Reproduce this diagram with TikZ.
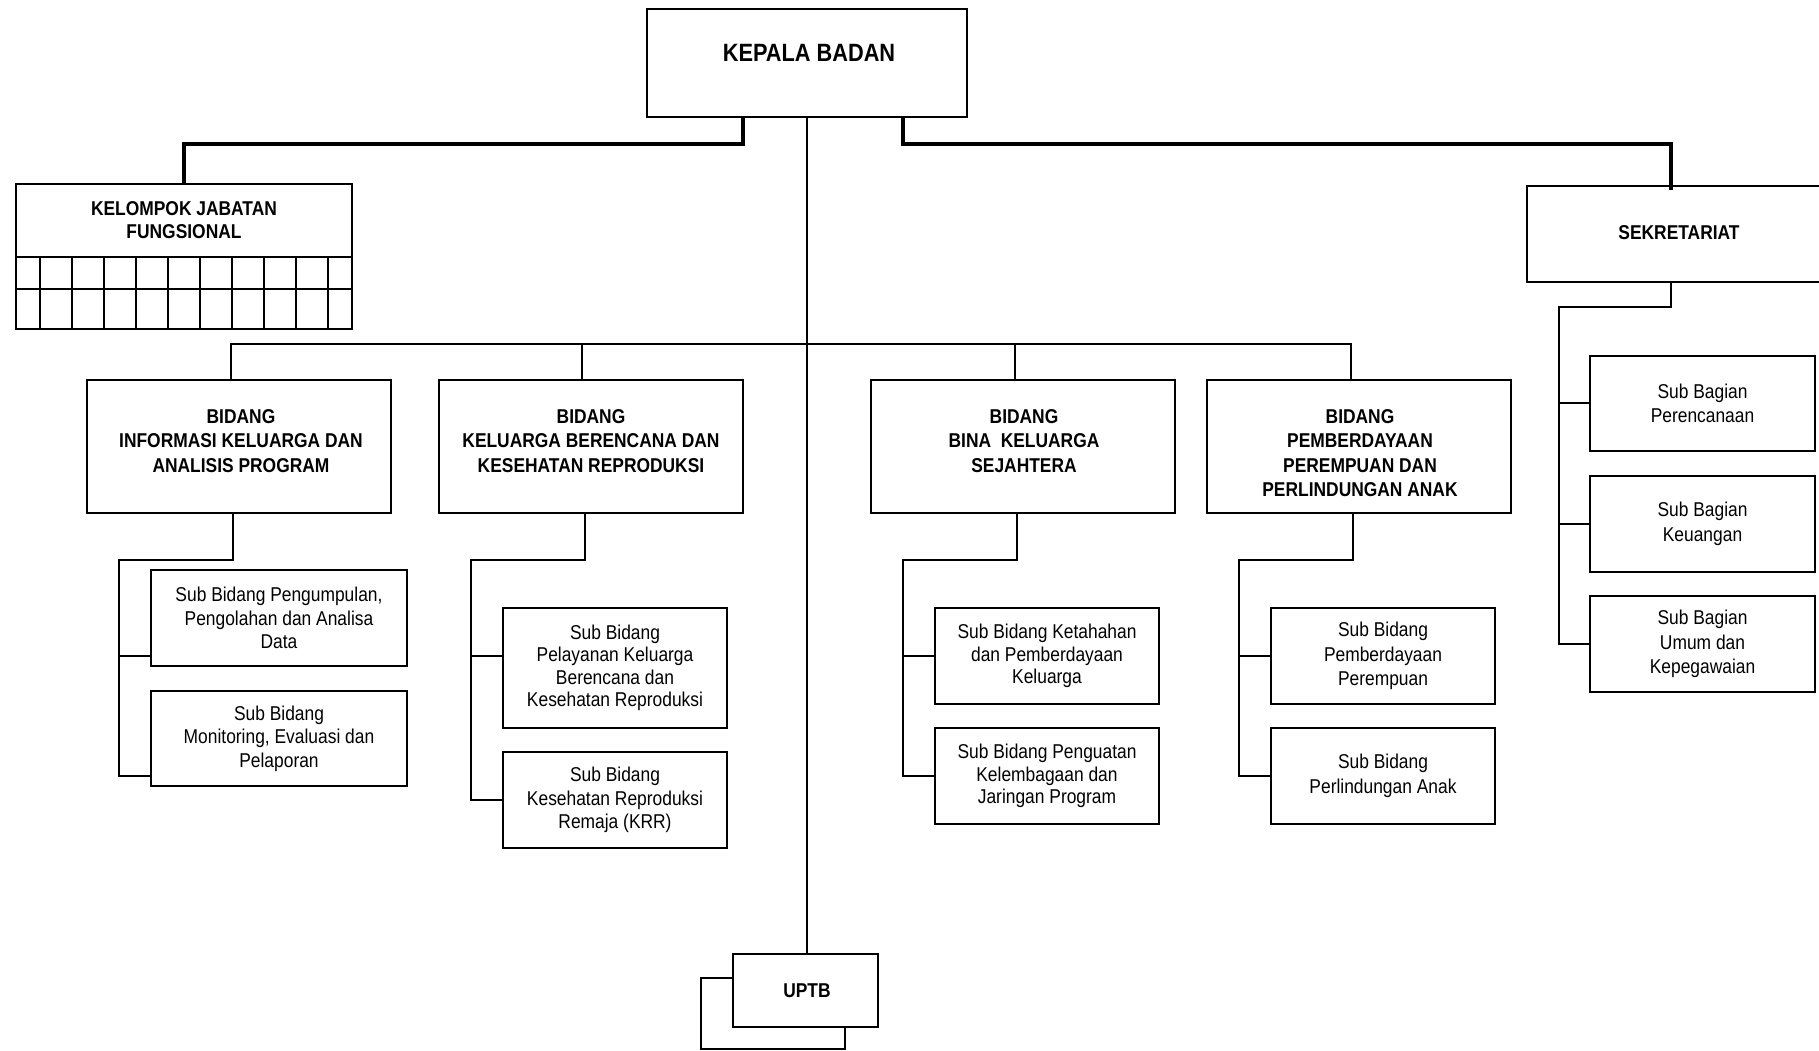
\documentclass[tikz,border=0pt]{standalone}
\usepackage{fontspec}
\setmainfont{Liberation Sans}[FakeStretch=0.87]
\begin{document}
\begin{tikzpicture}[x=1pt,y=-1pt,
  box/.style={draw, line width=2pt, fill=white, inner sep=0pt},
  subbox/.style={box, align=center, font=\fontsize{20}{23.5}\selectfont},
  link/.style={line width=1.8pt},
  heavy/.style={line width=3.6pt},
  head/.style={font=\bfseries\fontsize{20}{24.5}\selectfont, align=center, inner sep=0pt},
  grid/.style={line width=2pt},
]
\clip (0,0) rectangle (1819,1050);

% ---- top level ----
\node[box, minimum width=320, minimum height=108] (kb) at (807,63) {};
\node[inner sep=0pt, font=\bfseries\fontsize{25}{30}\selectfont] (kbt) at (809,53) {KEPALA BADAN};

\node[box, minimum width=336, minimum height=145] (kjf) at (184,256.5) {};
\node[head, font=\bfseries\fontsize{20}{23}\selectfont] (kjft) at (184,220.5) {KELOMPOK JABATAN\\FUNGSIONAL};
\draw[grid] (16,257) -- (352,257);
\draw[grid] (16,289) -- (352,289);
\foreach \gx in {40,72,...,328} \draw[grid] (\gx,257) -- (\gx,329);

\node[box, minimum width=304, minimum height=96] (sek) at (1679,234) {};
\node[head] (sekt) at (1679,233) {SEKRETARIAT};

% ---- bidang ----
\node[box, minimum width=304, minimum height=133] (b1) at (239,446.5) {};
\node[box, minimum width=304, minimum height=133] (b2) at (591,446.5) {};
\node[box, minimum width=304, minimum height=133] (b3) at (1023,446.5) {};
\node[box, minimum width=304, minimum height=133] (b4) at (1359,446.5) {};
\node[head, anchor=north] (b1t) at (241,409) {BIDANG\\INFORMASI KELUARGA DAN\\ANALISIS PROGRAM};
\node[head, anchor=north] (b2t) at (591,409) {BIDANG\\KELUARGA BERENCANA DAN\\KESEHATAN REPRODUKSI};
\node[head, anchor=north] (b3t) at (1024,409) {BIDANG\\BINA \ KELUARGA\\SEJAHTERA};
\node[head, anchor=north] (b4t) at (1360,409) {BIDANG\\PEMBERDAYAAN\\PEREMPUAN DAN\\PERLINDUNGAN ANAK};

% ---- sub bidang ----
\node[subbox, minimum width=256, minimum height=96] (s1a) at (279,618) {Sub Bidang Pengumpulan,\\Pengolahan dan Analisa\\Data};
\node[subbox, minimum width=256, minimum height=95] (s1b) at (279,738.5) {Sub Bidang\\Monitoring, Evaluasi dan\\Pelaporan};
\node[subbox, minimum width=224, minimum height=120, font=\fontsize{20}{22.5}\selectfont] (s2a) at (615,668) {Sub Bidang\\Pelayanan Keluarga\\Berencana dan\\Kesehatan Reproduksi};
\node[subbox, minimum width=224, minimum height=96] (s2b) at (615,800) {Sub Bidang\\Kesehatan Reproduksi\\Remaja (KRR)};
\node[subbox, minimum width=224, minimum height=96, font=\fontsize{20}{22.5}\selectfont] (s3a) at (1047,656) {Sub Bidang Ketahahan\\dan Pemberdayaan\\Keluarga};
\node[subbox, minimum width=224, minimum height=96, font=\fontsize{20}{22.5}\selectfont] (s3b) at (1047,776) {Sub Bidang Penguatan\\Kelembagaan dan\\Jaringan Program};
\node[subbox, minimum width=224, minimum height=96, font=\fontsize{20}{24.5}\selectfont] (s4a) at (1383,656) {Sub Bidang\\Pemberdayaan\\Perempuan};
\node[subbox, minimum width=224, minimum height=96, font=\fontsize{20}{24.5}\selectfont] (s4b) at (1383,776) {Sub Bidang\\Perlindungan Anak};

% ---- sub bagian ----
\node[subbox, minimum width=225, minimum height=95, font=\fontsize{20}{24.5}\selectfont] (sb1) at (1702.5,403.5) {Sub Bagian\\Perencanaan};
\node[subbox, minimum width=225, minimum height=96, font=\fontsize{20}{24.5}\selectfont] (sb2) at (1702.5,524) {Sub Bagian\\Keuangan};
\node[subbox, minimum width=225, minimum height=96, font=\fontsize{20}{24.5}\selectfont] (sb3) at (1702.5,644) {Sub Bagian\\Umum dan\\Kepegawaian};

% ---- UPTB with the second sheet behind it ----
\node[box, minimum width=144, minimum height=71] (uptb2) at (773,1013.5) {};
\node[box, minimum width=145, minimum height=73] (uptb) at (805,990.5) {};
\node[head] (uptbt) at (807,991) {UPTB};

% ---- heavy connectors ----
\draw[heavy] ([xshift=-64pt]kb.south) -- ++(0,26) -| (kjf.north);
\draw[heavy] ([xshift=96pt]kb.south) -- ++(0,26) -| ([xshift=-8pt,yshift=-5pt]sek.north);

% ---- main spine and distributor ----
\draw[link] (kb.south) -- (kb.south |- uptb.north);
\draw[link] ([xshift=-8pt]b1.north) -- ++(0,-35) -| ([xshift=-8pt]b4.north);
\draw[link] ([xshift=-9pt]b2.north) -- ++(0,-35);
\draw[link] ([xshift=-8pt]b3.north) -- ++(0,-35);

% ---- bidang to sub bidang ----
\coordinate (r1t) at (119,560); \coordinate (r1a) at (119,656); \coordinate (r1b) at (119,776);
\draw[link] ([xshift=-6pt]b1.south) |- (r1t) -- (r1b) -- (r1b -| s1b.west);
\draw[link] (r1a) -- (r1a -| s1a.west);

\coordinate (r2t) at (471,560); \coordinate (r2a) at (471,656); \coordinate (r2b) at (471,800);
\draw[link] ([xshift=-6pt]b2.south) |- (r2t) -- (r2b) -- (r2b -| s2b.west);
\draw[link] (r2a) -- (r2a -| s2a.west);

\coordinate (r3t) at (903,560); \coordinate (r3a) at (903,656); \coordinate (r3b) at (903,776);
\draw[link] ([xshift=-6pt]b3.south) |- (r3t) -- (r3b) -- (r3b -| s3b.west);
\draw[link] (r3a) -- (r3a -| s3a.west);

\coordinate (r4t) at (1239,560); \coordinate (r4a) at (1239,656); \coordinate (r4b) at (1239,776);
\draw[link] ([xshift=-6pt]b4.south) |- (r4t) -- (r4b) -- (r4b -| s4b.west);
\draw[link] (r4a) -- (r4a -| s4a.west);

% ---- sekretariat to sub bagian ----
\coordinate (rst) at (1559,307); \coordinate (rs1) at (1559,403); \coordinate (rs2) at (1559,524); \coordinate (rs3) at (1559,644);
\draw[link] ([xshift=-8pt]sek.south) |- (rst) -- (rs3) -- (rs3 -| sb3.west);
\draw[link] (rs1) -- (rs1 -| sb1.west);
\draw[link] (rs2) -- (rs2 -| sb2.west);
\end{tikzpicture}
\end{document}
